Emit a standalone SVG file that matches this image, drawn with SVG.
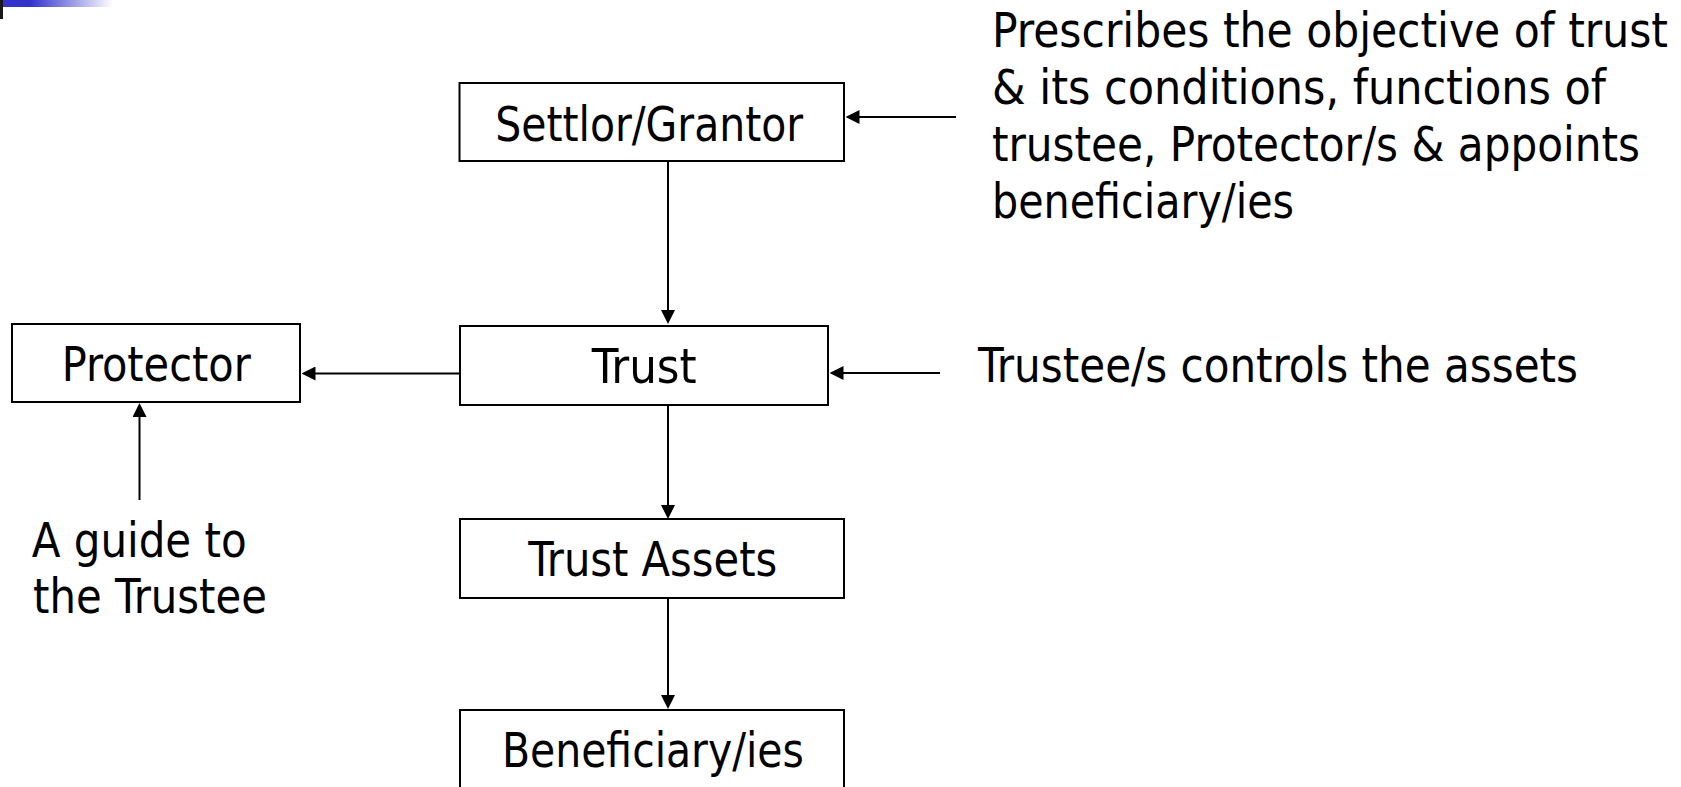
<svg xmlns="http://www.w3.org/2000/svg" width="1681" height="787" viewBox="0 0 1681 787">
  <defs>
    <linearGradient id="cornerFade" x1="0" y1="0" x2="1" y2="0">
      <stop offset="0" stop-color="#3333cc"/>
      <stop offset="0.25" stop-color="#3333cc"/>
      <stop offset="1" stop-color="#ffffff"/>
    </linearGradient>
    <marker id="arrow" viewBox="0 0 14 14" refX="2" refY="7" markerWidth="14" markerHeight="14" markerUnits="userSpaceOnUse" orient="auto">
      <path d="M0,0 L14,7 L0,14 z" fill="#000"/>
    </marker>
  </defs>
  <style>
    .box { fill: #fff; stroke: #000; stroke-width: 2; }
    .lbl { font-family: "DejaVu Sans Condensed", "DejaVu Sans", "Liberation Sans", sans-serif; font-size: 48px; fill: #000; }
    .mid { text-anchor: middle; }
    .conn line { stroke: #000; stroke-width: 2; marker-end: url(#arrow); }
  </style>

  <rect width="1681" height="787" fill="#fff"/>

  <!-- corner accent -->
  <rect x="3" y="0" width="110" height="7" fill="url(#cornerFade)"/>
  <rect x="0" y="0" width="3" height="19" fill="#1a1a1a"/>

  <g id="settlor">
    <rect class="box" x="459.5" y="83" width="384.5" height="78"/>
    <text class="lbl mid" x="649.2" y="140.5" textLength="308" lengthAdjust="spacingAndGlyphs">Settlor/Grantor</text>
  </g>

  <g id="trust">
    <rect class="box" x="460" y="326" width="368" height="79"/>
    <text class="lbl mid" x="644.2" y="382.5" textLength="105" lengthAdjust="spacingAndGlyphs">Trust</text>
  </g>

  <g id="protector">
    <rect class="box" x="12" y="324" width="288" height="78"/>
    <text class="lbl mid" x="156.2" y="380.5" textLength="189" lengthAdjust="spacingAndGlyphs">Protector</text>
  </g>

  <g id="trust-assets">
    <rect class="box" x="460" y="519" width="384" height="79"/>
    <text class="lbl mid" x="652.7" y="576" textLength="249" lengthAdjust="spacingAndGlyphs">Trust Assets</text>
  </g>

  <g id="beneficiaries">
    <rect class="box" x="460" y="710" width="384" height="100"/>
    <text class="lbl mid" x="652.9" y="766.7" textLength="302" lengthAdjust="spacingAndGlyphs">Beneficiary/ies</text>
  </g>

  <g id="settlor-note">
    <text class="lbl" x="992" y="46.5" textLength="676" lengthAdjust="spacingAndGlyphs">Prescribes the objective of trust</text>
    <text class="lbl" x="992" y="103.5" textLength="614" lengthAdjust="spacingAndGlyphs">&amp; its conditions, functions of</text>
    <text class="lbl" x="992" y="161" textLength="648" lengthAdjust="spacingAndGlyphs">trustee, Protector/s &amp; appoints</text>
    <text class="lbl" x="992" y="218.4" textLength="302" lengthAdjust="spacingAndGlyphs">beneficiary/ies</text>
  </g>

  <g id="trustee-note">
    <text class="lbl" x="978" y="381.7" textLength="600" lengthAdjust="spacingAndGlyphs">Trustee/s controls the assets</text>
  </g>

  <g id="protector-note">
    <text class="lbl" x="31.7" y="557" textLength="215" lengthAdjust="spacingAndGlyphs">A guide to</text>
    <text class="lbl" x="33" y="613" textLength="234" lengthAdjust="spacingAndGlyphs">the Trustee</text>
  </g>

  <g id="connectors" class="conn">
    <line x1="956" y1="117" x2="857.5" y2="117"/>
    <line x1="668" y1="161" x2="668" y2="312"/>
    <line x1="940" y1="373" x2="841.5" y2="373"/>
    <line x1="460" y1="373.5" x2="313.5" y2="373.5"/>
    <line x1="139.5" y1="500" x2="139.5" y2="415"/>
    <line x1="668" y1="405" x2="668" y2="507"/>
    <line x1="668" y1="598" x2="668" y2="697"/>
  </g>
</svg>
